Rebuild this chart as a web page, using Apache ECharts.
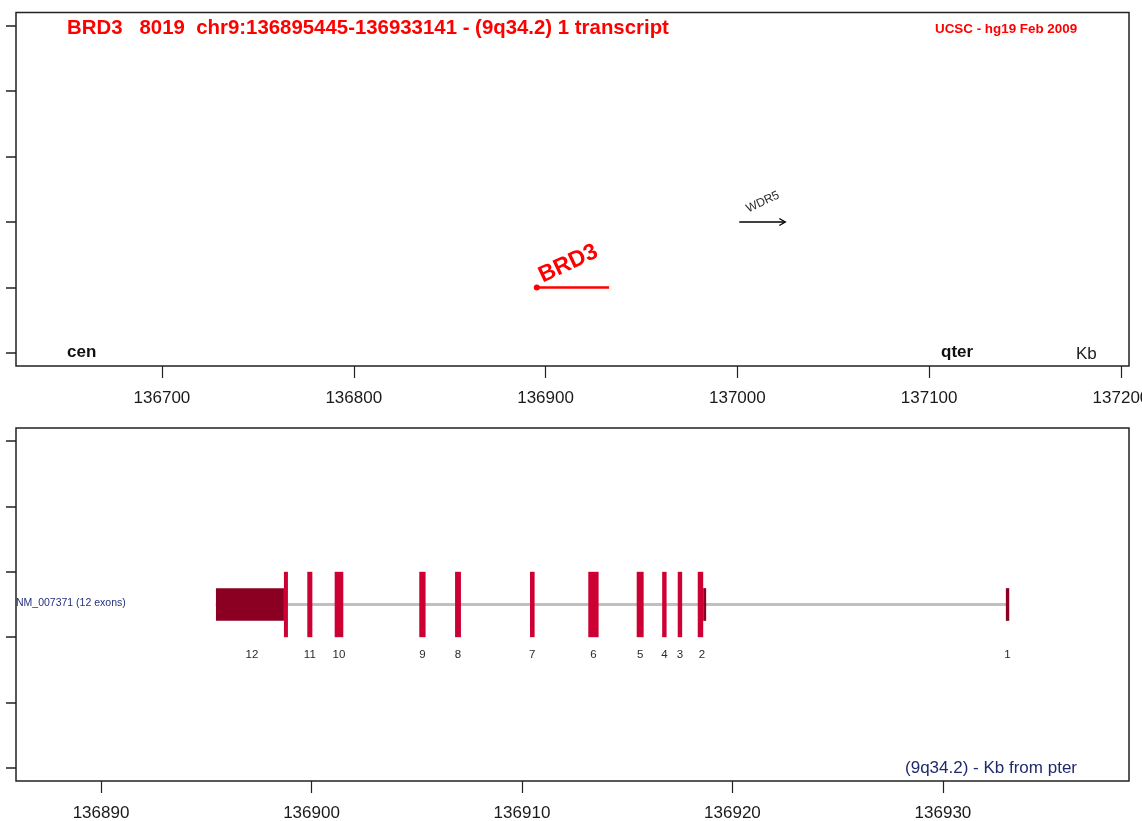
<!DOCTYPE html>
<html><head><meta charset="utf-8">
<script src="https://cdn.jsdelivr.net/npm/echarts@6/dist/echarts.min.js"></script>
<style>html,body{margin:0;padding:0;background:#fff}#c{width:1142px;height:821px}</style>
</head><body><div id="c"></div><script>
// ---- texts ----
const titleText = 'BRD3   8019  chr9:136895445-136933141 - (9q34.2) 1 transcript';
const sourceText = 'UCSC - hg19 Feb 2009';
const detailAxisText = '(9q34.2) - Kb from pter';
// ---- overview panel (Kb) ----
const overviewTicks = [136700, 136800, 136900, 137000, 137100, 137200];
const overviewGenes = ['BRD3', 'WDR5'];
const overviewStart = [136895.445, 137001.0];
const overviewEnd = [136933.141, 137025.0];
const overviewRow = [2, 3];
const rowTicks = [1, 2, 3, 4, 5, 6];
// ---- detail panel (Kb) ----
const detailTicks = [136890, 136900, 136910, 136920, 136930];
const transcriptName = 'NM_007371 (12 exons)';
const txStart = 136895.445, txEnd = 136933.141;
const cdsStart = 136898.69, cdsEnd = 136918.61;
const exonLabels = ['12', '11', '10', '9', '8', '7', '6', '5', '4', '3', '2', '1'];
const exonStart = [136895.46, 136899.80, 136901.10, 136905.12, 136906.82, 136910.38, 136913.15, 136915.45, 136916.66, 136917.40, 136918.35, 136932.99];
const exonEnd   = [136898.88, 136900.04, 136901.51, 136905.42, 136907.10, 136910.60, 136913.64, 136915.78, 136916.87, 136917.61, 136918.75, 136933.15];

const FONT = 'Liberation Sans, Arial, sans-serif';
const rowY = 3.5;
const ovMin = 136623.9, ovMax = 137204.2;
const dtMin = 136885.96, dtMax = 136938.84;
const cdsColor = '#CC0033', utrColor = '#8B0022';

const chart = echarts.init(document.getElementById('c'), null, {renderer: 'canvas'});

function xAxisCfg(grid, min, max, ticks) {
  return {
    type: 'value', gridIndex: grid, min: min, max: max,
    axisLine: {show: false}, splitLine: {show: false},
    axisTick: {show: true, length: 12, customValues: ticks, lineStyle: {color: '#222', width: 1.2}},
    axisLabel: {show: true, customValues: ticks, fontSize: 17, margin: 24, color: '#1a1a1a', fontFamily: FONT,
      formatter: function (v) { return String(v); }}
  };
}
function yAxisCfg(grid) {
  return {
    type: 'value', gridIndex: grid, min: 0.8, max: 6.2,
    axisLine: {show: false}, splitLine: {show: false},
    axisTick: {show: true, length: 10, customValues: rowTicks, lineStyle: {color: '#222', width: 1.5}},
    axisLabel: {show: false, customValues: rowTicks}
  };
}

const geneData = overviewGenes.map((g, i) => [overviewStart[i], overviewEnd[i], overviewRow[i], i]);
const exonData = exonLabels.map((l, i) => [exonStart[i], exonEnd[i], i]);

const option = {
  animation: false,
  backgroundColor: '#fff',
  grid: [
    {left: 16, right: 13, top: 12.5, height: 353.5, show: true, borderColor: '#222', borderWidth: 1.5, backgroundColor: 'transparent', containLabel: false, outerBoundsMode: 'none'},
    {left: 16, right: 13, top: 428, height: 353, show: true, borderColor: '#222', borderWidth: 1.5, backgroundColor: 'transparent', containLabel: false, outerBoundsMode: 'none'}
  ],
  xAxis: [xAxisCfg(0, ovMin, ovMax, overviewTicks), xAxisCfg(1, dtMin, dtMax, detailTicks)],
  yAxis: [yAxisCfg(0), yAxisCfg(1)],
  graphic: [
    {type: 'text', left: 67, top: 18, style: {text: titleText, font: 'bold 20.4px ' + FONT, fill: '#ff0000'}},
    {type: 'text', left: 935, top: 23, style: {text: sourceText, font: 'bold 13.4px ' + FONT, fill: '#ff0000'}},
    {type: 'text', left: 67, top: 344, style: {text: 'cen', font: 'bold 17px ' + FONT, fill: '#111'}},
    {type: 'text', left: 941, top: 344, style: {text: 'qter', font: 'bold 17px ' + FONT, fill: '#111'}},
    {type: 'text', left: 1076, top: 346, style: {text: 'Kb', font: '17px ' + FONT, fill: '#222'}},
    {type: 'text', right: 1142 - 1077, top: 760, style: {text: detailAxisText, font: '17px ' + FONT, fill: '#1f2a6e'}},
    {type: 'text', left: 16, top: 598, style: {text: transcriptName, font: '10.5px ' + FONT, fill: '#26307a'}}
  ],
  series: [
    {
      type: 'custom', xAxisIndex: 0, yAxisIndex: 0, data: geneData, clip: false,
      renderItem: function (params, api) {
        const s = api.coord([api.value(0), api.value(2)]);
        const e = api.coord([api.value(1), api.value(2)]);
        const idx = api.value(3);
        const name = overviewGenes[idx];
        if (idx === 0) {
          return {type: 'group', children: [
            {type: 'line', shape: {x1: s[0], y1: s[1], x2: e[0], y2: e[1]}, style: {stroke: '#ff0000', lineWidth: 2.5}},
            {type: 'circle', shape: {cx: s[0], cy: s[1], r: 3}, style: {fill: '#ff0000'}},
            {type: 'text', x: s[0] + 8, y: s[1], rotation: 25 * Math.PI / 180,
              style: {text: name, x: 0, y: 0, align: 'left', verticalAlign: 'bottom', font: 'bold 23px ' + FONT, fill: '#ff0000'}}
          ]};
        }
        return {type: 'group', children: [
          {type: 'line', shape: {x1: s[0], y1: s[1], x2: e[0], y2: e[1]}, style: {stroke: '#000', lineWidth: 1.3}},
          {type: 'polyline', shape: {points: [[e[0] - 6, e[1] - 3.5], [e[0], e[1]], [e[0] - 6, e[1] + 3.5]]}, style: {stroke: '#000', fill: null, lineWidth: 1.3}},
          {type: 'text', x: s[0] + 10, y: s[1] - 7, rotation: 25 * Math.PI / 180,
            style: {text: name, x: 0, y: 0, align: 'left', verticalAlign: 'bottom', font: '12px ' + FONT, fill: '#2a2a2a'}}
        ]};
      }
    },
    {
      type: 'line', xAxisIndex: 1, yAxisIndex: 1, symbol: 'none', silent: true, z: 1,
      data: [[txStart, rowY], [txEnd, rowY]],
      lineStyle: {color: '#c0c0c0', width: 3}
    },
    {
      type: 'custom', xAxisIndex: 1, yAxisIndex: 1, data: exonData, z: 3,
      renderItem: function (params, api) {
        const s = api.value(0), e = api.value(1), i = api.value(2);
        const children = [];
        function rect(a, b, h, color) {
          const p1 = api.coord([a, rowY + h]);
          const p2 = api.coord([b, rowY - h]);
          return {type: 'rect', shape: {x: p1[0], y: p1[1], width: Math.max(p2[0] - p1[0], 1), height: p2[1] - p1[1]}, style: {fill: color}};
        }
        if (s < cdsStart) children.push(rect(s, Math.min(e, cdsStart), 0.25, utrColor));
        if (e > cdsEnd) children.push(rect(Math.max(s, cdsEnd), e, 0.25, utrColor));
        const cs = Math.max(s, cdsStart), ce = Math.min(e, cdsEnd);
        if (ce > cs) children.push(rect(cs, ce, 0.5, cdsColor));
        const c = api.coord([(s + e) / 2, 2.73]);
        children.push({type: 'text', x: c[0], y: c[1], style: {text: exonLabels[i], x: 0, y: 0, align: 'center', verticalAlign: 'middle', font: '11.5px ' + FONT, fill: '#2a2a2a'}});
        return {type: 'group', children: children};
      }
    }
  ]
};
chart.setOption(option);
</script></body></html>
